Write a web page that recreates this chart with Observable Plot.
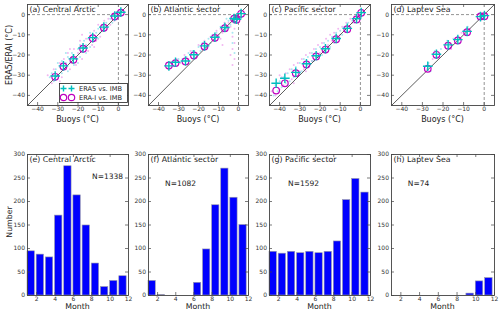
<!DOCTYPE html>
<html><head><meta charset="utf-8">
<script src="https://cdn.jsdelivr.net/npm/d3@7"></script>
<script src="https://cdn.jsdelivr.net/npm/@observablehq/plot@0.6"></script>
<style>
body{margin:0;background:#fff;}
#fig{position:relative;width:500px;height:313px;overflow:hidden;font-family:"DejaVu Sans",sans-serif;}
.lbl{position:absolute;color:#222;white-space:nowrap;transform:translate(-50%,-50%);line-height:1;}
.rot{transform:translate(-50%,-50%) rotate(-90deg);}
</style></head><body><div id="fig"></div>
<script>
// ---------- DATA ----------
const tempDomain = [-45, 5];
const tempTicks = [-40, -30, -20, -10, 0];
const months = [1, 2, 3, 4, 5, 6, 7, 8, 9, 10, 11];
const monthTicks = [2, 4, 6, 8, 10, 12];
const countTicks = [0, 50, 100, 150, 200, 250, 300];

const countsCentral  = [94, 87, 81, 170, 275, 213, 149, 68, 18, 31, 41];
const countsAtlantic = [31, 1, 0, 0, 0, 27, 98, 192, 270, 208, 150];
const countsPacific  = [93, 89, 93, 90, 93, 90, 93, 115, 203, 248, 219];
const countsLaptev   = [0, 0, 0, 0, 0, 0, 0, 0, 4, 30, 37];
const totals = ["N=1338", "N=1082", "N=1592", "N=74"];

// binned means: buoy temperature, ERA5, ERA-I
const binBuoyA = [-31.3, -27.2, -22.3, -17.5, -12.7, -7.2, -1.8, 1.2];
const binEra5A = [-30.4, -25.4, -21.9, -16.5, -11.4, -6.2, -0.7, 1.2];
const binEraiA = [-30.8, -25.7, -22.4, -16.9, -11.7, -6.5, -0.9, 1.0];

const binBuoyB = [-34.8, -31.5, -26.5, -22.3, -17.0, -11.8, -6.8, -2.2, -1.0, 1.3];
const binEra5B = [-25.4, -23.6, -23.0, -19.9, -15.5, -11.2, -6.4, -1.9, -2.3, 0.5];
const binEraiB = [-25.2, -24.0, -23.2, -20.2, -15.8, -11.5, -6.7, -2.0, -2.6, 0.4];

const binBuoyC = [-41.7, -37.4, -32.0, -26.7, -21.9, -17.3, -12.0, -6.5, -1.9, 0.4];
const binEra5C = [-34.0, -31.5, -28.6, -24.3, -20.4, -16.9, -11.8, -6.8, -2.0, 1.0];
const binEraiC = [-37.6, -34.0, -29.0, -24.7, -20.7, -17.3, -12.2, -7.2, -2.4, 0.9];

const binBuoyD = [-27.4, -23.2, -17.5, -12.8, -8.3, -1.8, 0.1];
const binEra5D = [-25.6, -19.6, -15.0, -12.4, -8.3, -1.0, -0.5];
const binEraiD = [-26.8, -19.9, -15.4, -12.8, -8.7, -0.9, -0.8];

// individual samples (buoy, reanalysis), read approximately from the clouds
const cloudEra5A = [[-34,-31],[-33,-29],[-32,-33],[-31,-27],[-30,-30],[-29,-26],[-28,-29],[-28,-23],[-27,-27],[-26,-24],[-25,-28],[-25,-21],[-24,-24],[-23,-19],[-22,-25],[-22,-20],[-21,-22],[-20,-17],[-19,-21],[-19,-15],[-18,-18],[-17,-13],[-16,-19],[-16,-15],[-15,-12],[-14,-16],[-13,-10],[-12,-13],[-11,-9],[-10,-12],[-10,-7],[-9,-9],[-8,-5],[-7,-8],[-6,-4],[-5,-6],[-4,-2],[-3,-4],[-2,0],[-1,-2],[0,1],[1,0],[-20,-24],[-26,-19],[-14,-9],[-30,-24]];
const cloudEraiA = [[-35,-30],[-33,-34],[-32,-27],[-31,-31],[-29,-24],[-28,-31],[-27,-22],[-26,-27],[-25,-19],[-24,-27],[-23,-21],[-22,-17],[-21,-25],[-20,-19],[-19,-13],[-18,-22],[-17,-16],[-16,-12],[-15,-18],[-14,-11],[-13,-15],[-12,-8],[-11,-13],[-10,-5],[-9,-11],[-8,-7],[-7,-3],[-6,-7],[-5,-2],[-4,-5],[-3,-1],[-2,-3],[-1,1],[0,-1],[1,2],[-24,-17],[-18,-10],[-29,-33],[-12,-16]];
const cloudEra5B = [[-35,-26],[-34,-24],[-32,-23],[-30,-22],[-28,-22],[-26,-21],[-25,-19],[-23,-18],[-22,-21],[-20,-16],[-19,-18],[-18,-14],[-16,-16],[-15,-12],[-14,-14],[-13,-10],[-12,-12],[-11,-9],[-10,-11],[-9,-6],[-8,-8],[-7,-5],[-6,-7],[-5,-3],[-4,-5],[-3,-2],[-3,-9],[-2,-1],[-2,-4],[-1,0],[0,-2],[1,1],[-3,-14],[-2,-19],[-6,-2]];
const cloudEraiB = [[-35,-27],[-33,-25],[-31,-22],[-29,-24],[-27,-20],[-25,-22],[-24,-18],[-21,-19],[-20,-15],[-18,-17],[-17,-13],[-15,-15],[-14,-11],[-12,-13],[-11,-8],[-10,-10],[-9,-7],[-8,-9],[-7,-4],[-6,-8],[-5,-4],[-4,-6],[-3,-3],[-3,-11],[-3,-17],[-2,-22],[-3,-25],[-2,-7],[-2,-14],[-1,-1],[0,0],[1,2],[-8,-15],[-9,-12],[-4,-20]];
const cloudEra5C = [[-43,-40],[-42,-35],[-41,-38],[-40,-33],[-39,-36],[-38,-31],[-37,-34],[-36,-29],[-35,-33],[-34,-27],[-33,-31],[-32,-26],[-31,-29],[-30,-24],[-29,-28],[-28,-22],[-27,-26],[-26,-21],[-25,-25],[-24,-19],[-23,-23],[-22,-17],[-21,-21],[-20,-16],[-19,-20],[-18,-14],[-17,-18],[-16,-13],[-15,-16],[-14,-11],[-13,-14],[-12,-9],[-11,-12],[-10,-8],[-9,-10],[-8,-6],[-7,-8],[-6,-4],[-5,-6],[-4,-3],[-3,-4],[-2,-1],[-1,-2],[0,0],[1,1],[-36,-35],[-30,-29],[-24,-23],[-18,-17]];
const cloudEraiC = [[-44,-38],[-42,-40],[-41,-34],[-40,-37],[-39,-31],[-38,-35],[-37,-29],[-36,-33],[-35,-27],[-34,-32],[-33,-25],[-32,-30],[-31,-24],[-30,-28],[-29,-22],[-28,-27],[-27,-20],[-26,-25],[-25,-19],[-24,-23],[-23,-17],[-22,-21],[-21,-15],[-20,-19],[-19,-14],[-18,-18],[-17,-12],[-16,-15],[-15,-10],[-14,-13],[-13,-9],[-12,-12],[-11,-7],[-10,-10],[-9,-6],[-8,-8],[-7,-4],[-6,-6],[-5,-2],[-4,-4],[-3,-1],[-2,-3],[-1,0],[0,-1],[1,2],[-40,-30],[-33,-34],[-27,-28]];
const cloudEra5D = [[-27,-24],[-26,-28],[-24,-18],[-23,-21],[-21,-17],[-18,-13],[-17,-16],[-15,-12],[-13,-11],[-12,-14],[-10,-8],[-9,-10],[-8,-6],[-2,-1],[0,0],[-1,-2]];
const cloudEraiD = [[-28,-27],[-25,-22],[-23,-18],[-22,-21],[-19,-16],[-17,-14],[-16,-17],[-14,-12],[-13,-13],[-11,-9],[-9,-8],[-7,-7],[-2,0],[0,-1],[1,0]];

const titlesTop = ["(a) Central Arctic", "(b) Atlantic sector", "(c) Pacific sector", "(d) Laptev Sea"];
const titlesBottom = ["(e) Central Arctic", "(f) Atlantic sector", "(g) Pacific sector", "(h) Laptev Sea"];
const legendLabels = ["ERA5 vs. IMB", "ERA-I vs. IMB"];

// ---------- LAYOUT ----------
const fig = document.getElementById("fig");
const cols = [{L: 27, W: 101}, {L: 148, W: 100}, {L: 269, W: 101}, {L: 391, W: 103}];
const topRow = {T: 4, H: 101};
const botRow = {T: 154, H: 141};
const CYAN = "#00bfbf", MAGENTA = "#bf00bf";
const fmt = d => d < 0 ? "\u2212" + Math.abs(d) : String(d);

function panel({L, T, W, H, xDomain, yDomain, xTicks, yTicks, marks}) {
  const ml = 26, mr = 4, mt = 4, mb = 14;
  const p = Plot.plot({
    width: W + ml + mr, height: H + mt + mb,
    marginLeft: ml, marginRight: mr, marginTop: mt, marginBottom: mb,
    x: {domain: xDomain}, y: {domain: yDomain},
    style: {fontFamily: "DejaVu Sans", background: "transparent", overflow: "visible", color: "#333"},
    marks: [
      ...marks,
      Plot.axisX(xTicks, {tickSize: 0, tickPadding: 1, fontSize: 6, tickFormat: fmt, label: null, fill: "#333"}),
      Plot.axisY(yTicks, {tickSize: 0, tickPadding: 2.5, fontSize: 6, tickFormat: fmt, label: null, fill: "#333"}),
      Plot.ruleX(xTicks, {x: d => d, insetTop: H - 3, stroke: "#444", strokeWidth: 0.7}),
      Plot.ruleX(xTicks, {x: d => d, insetBottom: H - 3, stroke: "#444", strokeWidth: 0.7}),
      Plot.ruleY(yTicks, {y: d => d, insetRight: W - 3, stroke: "#444", strokeWidth: 0.7}),
      Plot.ruleY(yTicks, {y: d => d, insetLeft: W - 3, stroke: "#444", strokeWidth: 0.7}),
      Plot.frame({stroke: "#444", strokeWidth: 0.9})
    ]
  });
  p.style.position = "absolute";
  p.style.left = (L - ml) + "px";
  p.style.top = (T - mt) + "px";
  fig.append(p);
}

function label(text, x, y, size, rotate) {
  const d = document.createElement("div");
  d.className = "lbl" + (rotate ? " rot" : "");
  d.style.left = x + "px"; d.style.top = y + "px"; d.style.fontSize = size + "px";
  d.textContent = text;
  fig.append(d);
}

const scatterSets = [
  [cloudEra5A, cloudEraiA, binBuoyA, binEra5A, binEraiA],
  [cloudEra5B, cloudEraiB, binBuoyB, binEra5B, binEraiB],
  [cloudEra5C, cloudEraiC, binBuoyC, binEra5C, binEraiC],
  [cloudEra5D, cloudEraiD, binBuoyD, binEra5D, binEraiD]
];

scatterSets.forEach(([c5, ci, bx, b5, bi], k) => {
  const {L, W} = cols[k];
  const zero = [0];
  panel({
    L, W, T: topRow.T, H: topRow.H,
    xDomain: tempDomain, yDomain: tempDomain, xTicks: tempTicks, yTicks: tempTicks,
    marks: [
      Plot.dot(ci, {x: d => d[0], y: d => d[1], r: 1, fill: "#e060e0", fillOpacity: 0.45, stroke: null, clip: true}),
      Plot.dot(c5, {x: d => d[0], y: d => d[1], r: 1, fill: "#40c8e0", fillOpacity: 0.45, stroke: null, clip: true}),
      Plot.ruleY(zero, {y: d => d, x1: tempDomain[0], x2: 0, stroke: "#777", strokeDasharray: "3,2", strokeWidth: 0.8}),
      Plot.ruleX(zero, {x: d => d, y1: tempDomain[0], y2: 0, stroke: "#777", strokeDasharray: "3,2", strokeWidth: 0.8}),
      Plot.line(tempDomain, {x: d => d, y: d => d, stroke: "#333", strokeWidth: 0.8}),
      Plot.dot(bx, {x: d => d, y: (d, i) => bi[i], r: 3.3, stroke: MAGENTA, strokeWidth: 1.2, fill: "none"}),
      Plot.dot(bx, {x: d => d, y: (d, i) => b5[i], r: 3.2, symbol: "plus", stroke: CYAN, strokeWidth: 1.4}),
      Plot.text([titlesTop[k]], {frameAnchor: "top-left", text: d => d, dx: 2, dy: 2, textAnchor: "start", lineAnchor: "top", fontSize: 7.8, fill: "#222"})
    ]
  });
  label("Buoys (\u00b0C)", L + W / 2, 120, 8, false);
});

const countSets = [countsCentral, countsAtlantic, countsPacific, countsLaptev];
const nOffsets = [{dx: 80, dy: 22}, {dx: 32, dy: 29}, {dx: 34, dy: 29}, {dx: 27, dy: 29}];
countSets.forEach((counts, k) => {
  const {L, W} = cols[k];
  const rows = months.map((m, i) => ({m, n: counts[i]})).filter(d => d.n > 0);
  panel({
    L, W, T: botRow.T, H: botRow.H,
    xDomain: [1, 12], yDomain: [0, 300], xTicks: monthTicks, yTicks: countTicks,
    marks: [
      Plot.rectY(rows, {x1: d => d.m, x2: d => d.m + 0.8, y: "n", fill: "#0000ff", stroke: "#9a9aaa", strokeWidth: 0.6}),
      Plot.text([titlesBottom[k]], {frameAnchor: "top-left", text: d => d, dx: 2, dy: 2, textAnchor: "start", lineAnchor: "top", fontSize: 7.8, fill: "#222"}),
      Plot.text([totals[k]], {frameAnchor: "top-left", text: d => d, dx: nOffsets[k].dx, dy: nOffsets[k].dy, textAnchor: "middle", lineAnchor: "middle", fontSize: 7.5, fill: "#222"})
    ]
  });
  label("Month", L + W / 2, 307, 7.8, false);
});

label("ERA5/ERAI (\u00b0C)", 10, 55, 8, true);
label("Number", 10, 222, 7.8, true);

// legend inside panel (a)
const ns = "http://www.w3.org/2000/svg";
const lg = document.createElementNS(ns, "svg");
lg.setAttribute("width", 69); lg.setAttribute("height", 20);
lg.style.position = "absolute"; lg.style.left = "58.5px"; lg.style.top = "82.5px";
lg.innerHTML =
  `<rect x="0.5" y="0.5" width="68" height="19" fill="white" stroke="#222" stroke-width="0.8"/>` +
  [4.5, 12.5].map(x => `<path d="M${x-3},5.5h6M${x},2.5v6" stroke="${CYAN}" stroke-width="1.4"/>`).join("") +
  [4.5, 12.5].map(x => `<circle cx="${x}" cy="14.5" r="3.2" fill="none" stroke="${MAGENTA}" stroke-width="1.2"/>`).join("") +
  legendLabels.map((t, i) => `<text x="20" y="${i ? 16.8 : 7.8}" font-family="DejaVu Sans" font-size="6.6" fill="#222">${t}</text>`).join("");
fig.append(lg);
</script></body></html>
